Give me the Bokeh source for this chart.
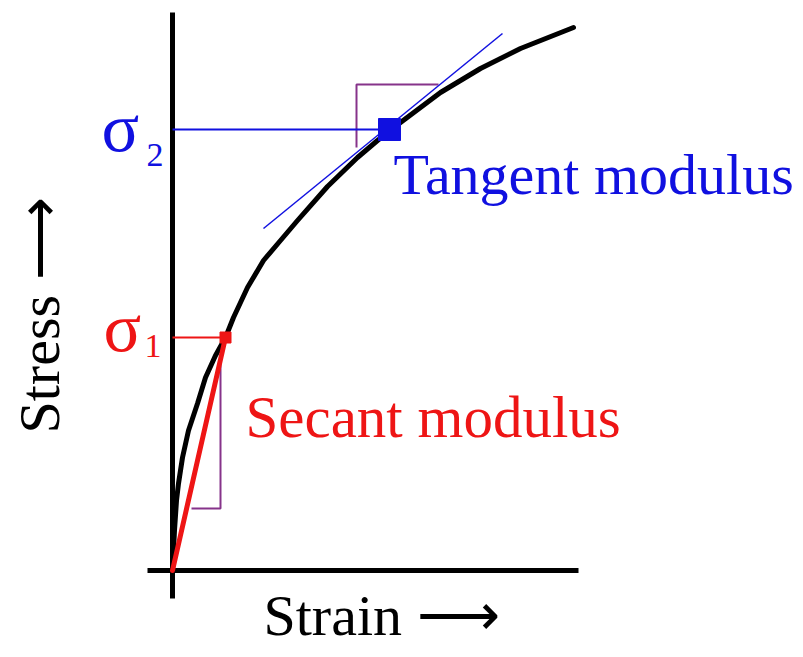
from bokeh.plotting import figure
from bokeh.models import Range1d
from bokeh.core.properties import value
from bokeh.embed import file_html
from bokeh.resources import INLINE
import math

# stress-strain curve (arbitrary units)
strain = [0.0, 0.01, 0.02, 0.04, 0.06, 0.10, 0.16, 0.25, 0.33, 0.43, 0.53, 0.61,
          0.75, 0.91, 1.08, 1.25, 1.55, 1.85, 2.05, 2.28, 2.68, 3.08, 3.48, 4.01]
stress = [0.0, 0.20, 0.40, 0.70, 0.87, 1.13, 1.40, 1.67, 1.93, 2.15, 2.33, 2.53,
          2.83, 3.10, 3.30, 3.50, 3.84, 4.13, 4.30, 4.48, 4.78, 5.02, 5.22, 5.43]

# secant modulus point (sigma 1)
sec_x = [0.53]
sec_y = [2.33]
# tangent modulus point (sigma 2)
tan_x = [2.17]
tan_y = [4.41]
# tangent line end points
tline_x = [0.91, 3.30]
tline_y = [3.42, 5.37]
# slope triangles
sec_tri_x = [0.19, 0.48, 0.48]
sec_tri_y = [0.62, 0.62, 2.10]
tan_tri_x = [1.84, 1.84, 2.66]
tan_tri_y = [4.23, 4.86, 4.86]
# axes extents
x_axis_x = [-0.25, 4.06]
y_axis_y = [-0.28, 5.58]

BLUE = "#1010E0"
RED = "#EE1515"
PURPLE = "#86338A"
FONT = value("Liberation Serif")

p = figure(width=795, height=649, output_backend="svg", toolbar_location=None,
           x_range=Range1d(-1.72, 6.23), y_range=Range1d(-0.79, 5.70),
           min_border=0, background_fill_color="white", border_fill_color="white")
p.xaxis.visible = False
p.yaxis.visible = False
p.grid.visible = False
p.outline_line_color = None

# axes
p.line(x=x_axis_x, y=[0, 0], line_color="black", line_width=5)
p.line(x=[0, 0], y=y_axis_y, line_color="black", line_width=5)

# slope triangles
p.line(x=sec_tri_x, y=sec_tri_y, line_color=PURPLE, line_width=2)
p.line(x=tan_tri_x, y=tan_tri_y, line_color=PURPLE, line_width=2)

# guide lines to stress axis
p.line(x=[0, tan_x[0]], y=[tan_y[0], tan_y[0]], line_color=BLUE, line_width=2)
p.line(x=[0, sec_x[0]], y=[sec_y[0], sec_y[0]], line_color=RED, line_width=2)

# tangent line
p.line(x=tline_x, y=tline_y, line_color=BLUE, line_width=1.5)

# curve
p.line(x=strain, y=stress, line_color="black", line_width=5, line_cap="round", line_join="round")

# secant line
p.line(x=[0, sec_x[0]], y=[0, sec_y[0]], line_color=RED, line_width=5, line_cap="round")

# markers
p.scatter(x=tan_x, y=tan_y, marker="square", size=22, color=BLUE)
p.scatter(x=sec_x, y=sec_y, marker="square", size=11, color=RED)


def label(x, y, s, size, color, angle=0.0):
    shift = 0.355 * size
    if angle:
        p.text(x=[x], y=[y], text=[s], text_font=FONT, text_font_size=f"{size}px",
               text_color=color, text_baseline="alphabetic", angle=angle, x_offset=-shift)
    else:
        p.text(x=[x], y=[y], text=[s], text_font=FONT, text_font_size=f"{size}px",
               text_color=color, text_baseline="alphabetic", y_offset=-shift)


label(-0.71, 4.18, "σ", 70, BLUE)
label(-0.26, 4.03, "2", 34, BLUE)
label(-0.69, 2.18, "σ", 70, RED)
label(-0.28, 2.12, "1", 34, RED)
label(2.21, 3.75, "Tangent modulus", 58, BLUE)
label(0.73, 1.33, "Secant modulus", 59, RED)
label(0.91, -0.66, "Strain ⟶", 58, "black")
label(-1.12, 1.37, "Stress ⟶", 58, "black", angle=math.pi / 2)

open("out.html", "w").write(file_html(p, INLINE))
